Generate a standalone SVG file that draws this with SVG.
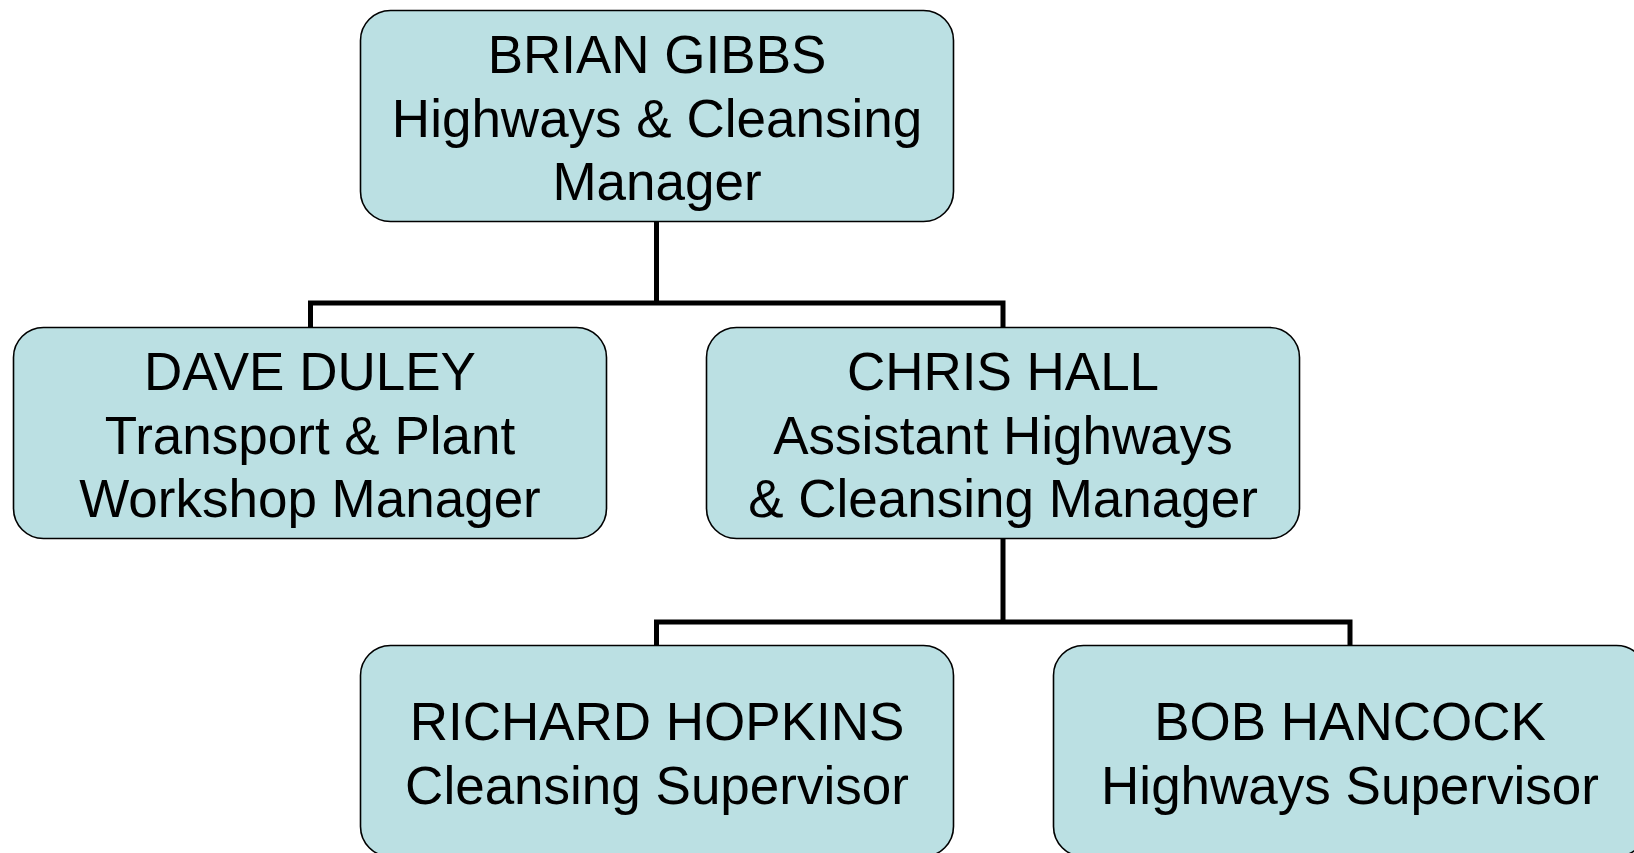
<svg xmlns="http://www.w3.org/2000/svg" width="1634" height="853" viewBox="0 0 1634 853">
<style>
.box{fill:#bbe0e3;stroke:#000;stroke-width:1.6}
.t{font-family:"Liberation Sans",Arial,sans-serif;font-size:53px;fill:#000;text-anchor:middle}
.c{fill:none;stroke:#000;stroke-width:5}
</style>
<rect width="1634" height="853" fill="#fff"/>
<g id="connectors">
<path class="c" d="M656.5 221V303M310.5 327V303H1003V327"/>
<path class="c" d="M1003 538V622M656.5 646V622H1350V646"/>
</g>
<g id="brian">
<rect class="box" x="360.5" y="10.5" width="593" height="211" rx="30"/>
<text class="t" x="657" y="73">BRIAN GIBBS</text>
<text class="t" x="657" y="137">Highways &amp; Cleansing</text>
<text class="t" x="657" y="200">Manager</text>
</g>
<g id="dave">
<rect class="box" x="13.5" y="327.5" width="593" height="211" rx="30"/>
<text class="t" x="310" y="390">DAVE DULEY</text>
<text class="t" x="310" y="454">Transport &amp; Plant</text>
<text class="t" x="310" y="517">Workshop Manager</text>
</g>
<g id="chris">
<rect class="box" x="706.5" y="327.5" width="593" height="211" rx="30"/>
<text class="t" x="1003" y="390">CHRIS HALL</text>
<text class="t" x="1003" y="454">Assistant Highways</text>
<text class="t" x="1003" y="517">&amp; Cleansing Manager</text>
</g>
<g id="richard">
<rect class="box" x="360.5" y="645.5" width="593" height="211" rx="30"/>
<text class="t" x="657" y="740">RICHARD HOPKINS</text>
<text class="t" x="657" y="804">Cleansing Supervisor</text>
</g>
<g id="bob">
<rect class="box" x="1053.5" y="645.5" width="593" height="211" rx="30"/>
<text class="t" x="1350" y="740">BOB HANCOCK</text>
<text class="t" x="1350" y="804">Highways Supervisor</text>
</g>
</svg>
